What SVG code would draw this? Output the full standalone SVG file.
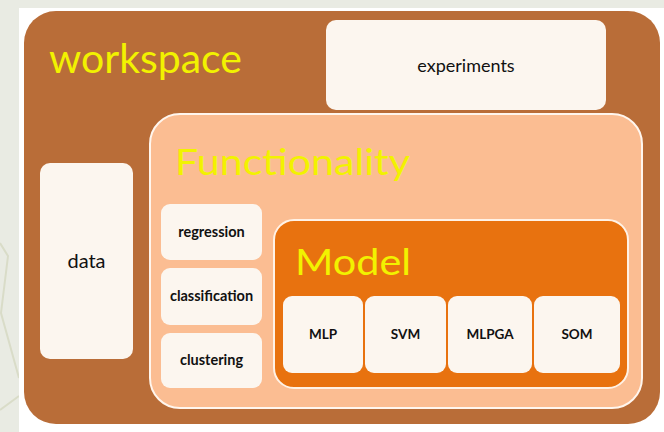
<svg xmlns="http://www.w3.org/2000/svg" width="664" height="432" viewBox="0 0 664 432">
<style>
.box{fill:#fcf6ef}
.title{font-family:Lato,"Liberation Sans",sans-serif;fill:#f2f200}
.lbl{font-family:Lato,"Liberation Sans",sans-serif;fill:#111;text-anchor:middle}
.b{font-weight:bold;font-size:13.5px}
.f{font-weight:bold;font-size:14.5px}
.deco{fill:none;stroke:#d9dcc8;stroke-width:2}
</style>
<rect width="664" height="432" fill="#e9ebe3"/>
<g id="decor">
<polyline class="deco" points="0,243 8,256 1,313 19,378"/>
<polyline class="deco" points="0,410 19,396"/>
</g>
<rect x="19" y="8" width="645" height="424" fill="#ffffff"/>
<g id="workspace">
<rect x="24" y="11" width="636" height="413" rx="32" fill="#b96d38"/>
<text class="title" x="49" y="73" font-size="40" textLength="193" lengthAdjust="spacingAndGlyphs">workspace</text>
</g>
<g id="experiments">
<rect class="box" x="326" y="20" width="280" height="90" rx="10"/>
<text class="lbl" x="466" y="72" font-size="18">experiments</text>
</g>
<g id="data">
<rect class="box" x="40" y="163" width="93" height="196" rx="10"/>
<text class="lbl" x="86.5" y="268" font-size="20">data</text>
</g>
<g id="functionality">
<rect x="150" y="114" width="492" height="294" rx="30" fill="#fbbd92" stroke="#fff6ee" stroke-width="2"/>
<text class="title" x="175" y="175" font-size="37" textLength="235" lengthAdjust="spacingAndGlyphs">Functionality</text>
</g>
<g id="regression">
<rect class="box" x="161" y="204" width="101" height="56" rx="9"/>
<text class="lbl f" x="211.5" y="237">regression</text>
</g>
<g id="classification">
<rect class="box" x="161" y="268" width="101" height="57" rx="9"/>
<text class="lbl f" x="211.5" y="301">classification</text>
</g>
<g id="clustering">
<rect class="box" x="161" y="333" width="101" height="55" rx="9"/>
<text class="lbl f" x="211.5" y="365">clustering</text>
</g>
<g id="model">
<rect x="274" y="220" width="354" height="168" rx="20" fill="#e8720f" stroke="#fff2e6" stroke-width="2"/>
<text class="title" x="295" y="275" font-size="37" textLength="116" lengthAdjust="spacingAndGlyphs">Model</text>
</g>
<g id="mlp">
<rect class="box" x="283" y="296" width="80" height="77" rx="9"/>
<text class="lbl b" x="323" y="339">MLP</text>
</g>
<g id="svm">
<rect class="box" x="365" y="296" width="81" height="77" rx="9"/>
<text class="lbl b" x="405.5" y="339">SVM</text>
</g>
<g id="mlpga">
<rect class="box" x="448" y="296" width="84" height="77" rx="9"/>
<text class="lbl b" x="490" y="339">MLPGA</text>
</g>
<g id="som">
<rect class="box" x="534" y="296" width="86" height="77" rx="9"/>
<text class="lbl b" x="577" y="339">SOM</text>
</g>
<g id="connectors"/>
</svg>
